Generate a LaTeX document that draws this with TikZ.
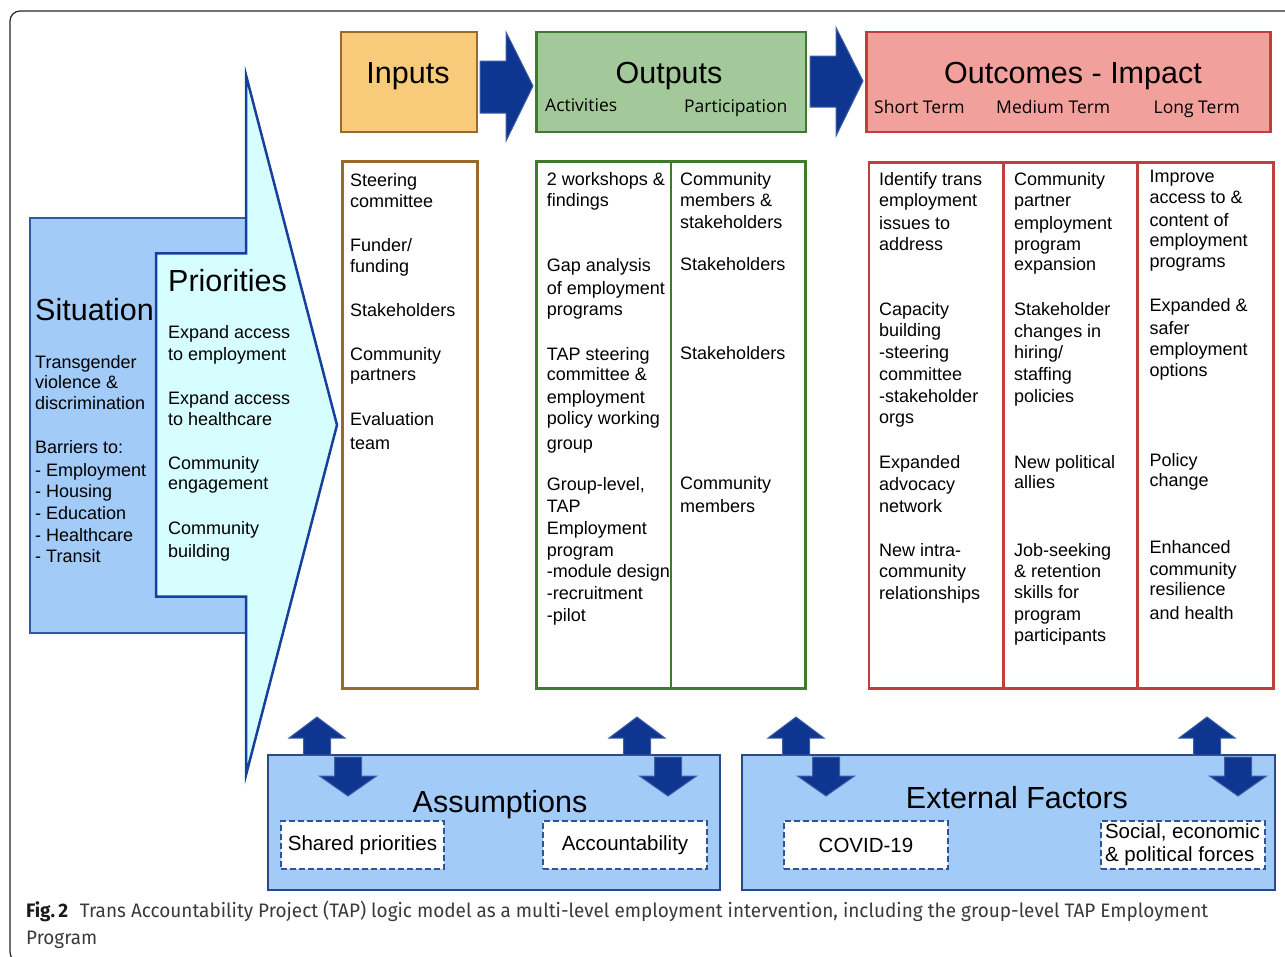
\documentclass[tikz,border=0pt]{standalone}
\usepackage{fontspec}
\usepackage{graphicx}
\setmainfont{Liberation Sans}
\newfontfamily\osans{Open Sans}
\newfontfamily\capfont{Fira Sans}
\definecolor{inpF}{HTML}{F8CB7A}
\definecolor{inpD}{HTML}{9A6A2A}
\definecolor{outF}{HTML}{A3C99A}
\definecolor{outD}{HTML}{3F7B2F}
\definecolor{ocF}{HTML}{F2A09C}
\definecolor{ocD}{HTML}{C23E3C}
\definecolor{navy}{HTML}{0E3691}
\definecolor{navyedge}{HTML}{3D5EA6}
\definecolor{sitF}{HTML}{A3CBF7}
\definecolor{sitD}{HTML}{2F5AA6}
\definecolor{priF}{HTML}{D6FEFF}
\definecolor{priD}{HTML}{16409C}
\definecolor{botF}{HTML}{A3CBF7}
\definecolor{botD}{HTML}{284A8C}
\definecolor{dashc}{HTML}{2F5597}
\definecolor{capgray}{HTML}{3A3A3A}
\newcounter{tln}
\newcommand\tl[3]{\stepcounter{tln}\node[txt] (tl\arabic{tln}) at (#1,#2) {#3};}
\newcommand\uparr[2]{\draw[blockarr] ({#1-13.5},755) -- ({#1-13.5},738) -- ({#1-28},738) -- (#1,717) -- ({#1+28},738) -- ({#1+13.5},738) -- ({#1+13.5},755) -- cycle; \coordinate (#2) at (#1,717);}
\newcommand\downarr[2]{\draw[blockarr] ({#1-13.5},757) -- ({#1+13.5},757) -- ({#1+13.5},776) -- ({#1+28.5},776) -- (#1,796) -- ({#1-28.5},776) -- ({#1-13.5},776) -- cycle; \coordinate (#2) at (#1,796);}
\tikzset{
  txt/.style={font=\fontsize{18}{21.6}\selectfont, inner sep=0pt, anchor=base west, text=black},
  hdr/.style={font=\fontsize{30.5}{36}\selectfont, inner sep=0pt, anchor=base, text=black},
  subhdr/.style={font=\osans\fontsize{17.5}{21}\selectfont, inner sep=0pt, anchor=base west, text=black},
  blockarr/.style={fill=navy, draw=navyedge, line width=1pt, line join=miter},
  col/.style={line width=2.5pt, fill=white},
  dbox/.style={draw=dashc, dash pattern=on 6pt off 3pt, line width=2pt, fill=white, inner sep=0pt, font=\fontsize{20.5}{23.3}\selectfont, minimum height=48pt, text=black},
}
\begin{document}
\begin{tikzpicture}[x=1pt,y=-1pt]
\useasboundingbox (0,0) rectangle (1285,956);
\clip (0,0) rectangle (1285,956);
% outer frame
\draw[line width=1.2pt, black!85, rounded corners=10pt] (80,962) -- (10,962) -- (10,11) -- (1320,11);

% header boxes
\node[draw=inpD, fill=inpF, line width=2.5pt, minimum width=136pt, minimum height=100pt, inner sep=0pt] (inputs) at (409,82) {};
\node[draw=outD, fill=outF, line width=2.5pt, minimum width=269.5pt, minimum height=100pt, inner sep=0pt] (outputs) at (671.25,82) {};
\node[draw=ocD, fill=ocF, line width=2.5pt, minimum width=404pt, minimum height=100pt, inner sep=0pt] (outcomes) at (1068.5,82) {};
\node[hdr] (tInputs) at (408,83.3) {Inputs};
\node[hdr] (tOutputs) at (669,83.3) {Outputs};
\node[hdr] (tOutcomes) at (1073,83.3) {Outcomes - Impact};
\node[subhdr] (tAct) at (545,111.7) {Activities};
\node[subhdr] (tPart) at (684,112.5) {Participation};
\node[subhdr] (tShort) at (874,113) {Short Term};
\node[subhdr] (tMed) at (996,113) {Medium Term};
\node[subhdr] (tLong) at (1153.5,113) {Long Term};

% block arrows between headers
\draw[blockarr] (480,61) -- (506,61) -- (506,32) -- (533,86) -- (506,141) -- (506,113) -- (480,113) -- cycle;
\draw[blockarr] (810,56) -- (836,56) -- (836,27.5) -- (863,81) -- (836,136) -- (836,107) -- (810,107) -- cycle;

% columns
\draw[col, draw=inpD] (342.7,161.7) rectangle (477.3,688.3);
\draw[col, draw=outD] (536.7,161.7) rectangle (805.7,688.3);
\draw[col, draw=outD] (671,161.7) -- (671,688.3);
\draw[col, draw=ocD] (869,162.3) rectangle (1273.3,688.3);
\draw[col, draw=ocD] (1003.3,162.3) -- (1003.3,688.3);
\draw[col, draw=ocD] (1137.7,162.3) -- (1137.7,688.3);

% situation and priorities
\draw[fill=sitF, draw=sitD, line width=2pt] (29.5,218.3) rectangle (246,632.7);
\draw[fill=priF, draw=priD, line width=2.5pt, line join=miter] (156,253.3) -- (246,253.3) -- (246,75) -- (337,425) -- (246,775) -- (246,596.7) -- (156,596.7) -- cycle;
\node[hdr, anchor=base west] (tSit) at (35,320) {Situation};
\node[hdr, anchor=base west] (tPri) at (168,291.5) {Priorities};
\tl{35}{368}{Transgender}
\tl{35}{388.5}{violence \&}
\tl{35}{409.5}{discrimination}
\tl{35}{453.5}{Barriers to:}
\tl{35}{476.5}{- Employment}
\tl{35}{497.5}{- Housing}
\tl{35}{519}{- Education}
\tl{35}{541.5}{- Healthcare}
\tl{35}{562.5}{- Transit}
\tl{168}{338.5}{Expand access}
\tl{168}{360}{to employment}
\tl{168}{404}{Expand access}
\tl{168}{425}{to healthcare}
\tl{168}{469.5}{Community}
\tl{168}{489.5}{engagement}
\tl{168}{534.5}{Community}
\tl{168}{557.5}{building}

% inputs column
\tl{350}{186.7}{Steering}
\tl{350}{207.3}{committee}
\tl{350}{251.7}{Funder/}
\tl{350}{272.7}{funding}
\tl{350}{316}{Stakeholders}
\tl{350}{360.7}{Community}
\tl{350}{380.7}{partners}
\tl{350}{425.3}{Evaluation}
\tl{350}{449.3}{team}

% activities column
\tl{546.7}{185}{2 workshops \&}
\tl{546.7}{206}{findings}
\tl{546.7}{271.7}{Gap analysis}
\tl{546.7}{294}{of employment}
\tl{546.7}{315}{programs}
\tl{546.7}{360}{TAP steering}
\tl{546.7}{380.7}{committee \&}
\tl{546.7}{403.3}{employment}
\tl{546.7}{424}{policy working}
\tl{546.7}{449.3}{group}
\tl{546.7}{490}{Group-level,}
\tl{546.7}{512.7}{TAP}
\tl{546.7}{534}{Employment}
\tl{546.7}{556.7}{program}
\tl{546.7}{577.3}{-module design}
\tl{546.7}{599.3}{-recruitment}
\tl{546.7}{621.7}{-pilot}

% participation column
\tl{680}{185}{Community}
\tl{680}{206}{members \&}
\tl{680}{228.3}{stakeholders}
\tl{680}{270.7}{Stakeholders}
\tl{680}{359.3}{Stakeholders}
\tl{680}{489.3}{Community}
\tl{680}{512.7}{members}

% short term
\tl{879}{185}{Identify trans}
\tl{879}{206}{employment}
\tl{879}{229}{issues to}
\tl{879}{250}{address}
\tl{879}{315.7}{Capacity}
\tl{879}{336.7}{building}
\tl{879}{358.3}{-steering}
\tl{879}{380}{committee}
\tl{879}{402.3}{-stakeholder}
\tl{879}{423.3}{orgs}
\tl{879}{468.3}{Expanded}
\tl{879}{490}{advocacy}
\tl{879}{512.3}{network}
\tl{879}{556.7}{New intra-}
\tl{879}{577.3}{community}
\tl{879}{599}{relationships}

% medium term
\tl{1014}{185}{Community}
\tl{1014}{206}{partner}
\tl{1014}{229}{employment}
\tl{1014}{250}{program}
\tl{1014}{270.7}{expansion}
\tl{1014}{315.7}{Stakeholder}
\tl{1014}{337.3}{changes in}
\tl{1014}{358.3}{hiring/}
\tl{1014}{380}{staffing}
\tl{1014}{402.3}{policies}
\tl{1014}{468.3}{New political}
\tl{1014}{488.3}{allies}
\tl{1014}{556.7}{Job-seeking}
\tl{1014}{577.3}{\& retention}
\tl{1014}{598.3}{skills for}
\tl{1014}{620.7}{program}
\tl{1014}{641.7}{participants}

% long term
\tl{1149.3}{182.7}{Improve}
\tl{1149.3}{203.3}{access to \&}
\tl{1149.3}{226}{content of}
\tl{1149.3}{246.7}{employment}
\tl{1149.3}{267.3}{programs}
\tl{1149.3}{311.7}{Expanded \&}
\tl{1149.3}{334.3}{safer}
\tl{1149.3}{355.7}{employment}
\tl{1149.3}{376.7}{options}
\tl{1149.3}{466}{Policy}
\tl{1149.3}{486.7}{change}
\tl{1149.3}{553.3}{Enhanced}
\tl{1149.3}{575}{community}
\tl{1149.3}{595.7}{resilience}
\tl{1149.3}{619}{and health}

% bottom boxes
\draw[fill=botF, draw=botD, line width=2pt] (267.5,755) rectangle (720,890);
\draw[fill=botF, draw=botD, line width=2pt] (741.5,755) rectangle (1275,890);
\uparr{317}{ua1}
\downarr{348}{da1}
\uparr{637}{ua2}
\downarr{668}{da2}
\uparr{796}{ua3}
\downarr{826}{da3}
\uparr{1207}{ua4}
\downarr{1238}{da4}
\node[hdr] (tAss) at (500,812) {Assumptions};
\node[hdr] (tExt) at (1017,808.5) {External Factors};
\node[dbox, minimum width=163pt] (shared) at (362.5,845) {Shared priorities};
\node[dbox, minimum width=164pt] (acc) at (625,845) {Accountability};
\node[dbox, minimum width=164pt] (covid) at (866,845) {COVID-19};
\node[dbox, minimum width=164pt, align=left] (social) at (1182.5,845) {Social, economic\\\& political forces};

% caption
\node[anchor=base west, inner sep=0pt, text=capgray, font=\capfont\fontsize{19.5}{23}\selectfont] (cap1) at (26,917) {\resizebox{1182pt}{\height}{\textcolor{black!90}{\bfseries Fig.\,2}\hspace{12pt}Trans Accountability Project (TAP) logic model as a multi-level employment intervention, including the group-level TAP Employment}};
\node[anchor=base west, inner sep=0pt, text=capgray, font=\capfont\fontsize{19.5}{23}\selectfont] (cap2) at (26,944) {\resizebox{71pt}{\height}{Program}};
\end{tikzpicture}
\end{document}
